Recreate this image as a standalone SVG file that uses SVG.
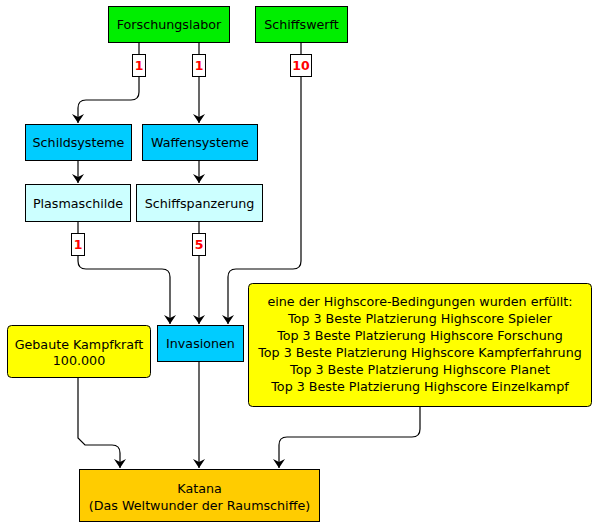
<svg xmlns="http://www.w3.org/2000/svg" width="596" height="528" viewBox="0 0 596 528">
<defs>
<marker id="arr" markerUnits="userSpaceOnUse" markerWidth="14" markerHeight="14" viewBox="-10 -7 12 14" refX="0" refY="0" orient="auto">
<path d="M-9,-6 L0,0 L-9,6 L-6,0 z" fill="#000"/>
</marker>
<style>
text{font-family:"DejaVu Sans",Verdana,sans-serif;font-size:12.7px;fill:#000;text-anchor:middle}
.n{stroke:#000;stroke-width:1}
.g{fill:#00ee00}.b{fill:#00ccff}.c{fill:#ccffff}.y{fill:#ffff00}.o{fill:#ffcc00}
.e{fill:none;stroke:#000;stroke-width:1.2}
.a{marker-end:url(#arr)}
.lb{fill:#fff;stroke:#000;stroke-width:1}
.lt{fill:#ff0000;font-weight:bold;font-size:12.5px}
</style>
</defs>
<rect width="596" height="528" fill="#fff"/>
<g id="connectors">
<path class="e a" d="M139,42 V92 Q139,100 131,100 H86 Q78,100 78,108 V123"/>
<path class="e a" d="M199,42 V123"/>
<path class="e a" d="M78,160 V183"/>
<path class="e a" d="M199,160 V183"/>
<path class="e a" d="M78,221 V261 Q78,269 86,269 H162 Q170,269 170,277 V324"/>
<path class="e a" d="M199,221 V324"/>
<path class="e a" d="M301,42 V261 Q301,269 293,269 H236 Q228,269 228,277 V324"/>
<path class="e a" d="M199,361 V468"/>
<path class="e a" d="M78,377 V438 L85,445 H112 Q120,445 120,453 V468"/>
<path class="e a" d="M420,406 V429 Q420,437 412,437 H287 Q279,437 279,445 V468"/>
<rect class="lb" x="132.5" y="54.5" width="13" height="22"/><text class="lt" x="139" y="70">1</text>
<rect class="lb" x="192.5" y="54.5" width="13" height="22"/><text class="lt" x="199" y="70">1</text>
<rect class="lb" x="290.5" y="54.5" width="21" height="22"/><text class="lt" x="301" y="70">10</text>
<rect class="lb" x="71.5" y="233.5" width="13" height="22"/><text class="lt" x="78" y="249">1</text>
<rect class="lb" x="192.5" y="233.5" width="13" height="22"/><text class="lt" x="199" y="249">5</text>
</g>
<g id="forschungslabor"><rect class="n g" x="108.5" y="6.5" width="121" height="36"/><text x="169" y="29">Forschungslabor</text></g>
<g id="schiffswerft"><rect class="n g" x="255.5" y="6.5" width="92" height="36"/><text x="301.5" y="29">Schiffswerft</text></g>
<g id="schildsysteme"><rect class="n b" x="25.5" y="124.5" width="106" height="36"/><text x="78.5" y="147">Schildsysteme</text></g>
<g id="waffensysteme"><rect class="n b" x="142.5" y="124.5" width="115" height="36"/><text x="200" y="147">Waffensysteme</text></g>
<g id="plasmaschilde"><rect class="n c" x="25.5" y="184.5" width="105" height="37"/><text x="78" y="207.5">Plasmaschilde</text></g>
<g id="schiffspanzerung"><rect class="n c" x="136.5" y="184.5" width="126" height="37"/><text x="199.5" y="207.5">Schiffspanzerung</text></g>
<g id="invasionen"><rect class="n b" x="157.5" y="325.5" width="86" height="36"/><text x="200.5" y="348">Invasionen</text></g>
<g id="kampfkraft"><rect class="n y" x="7.5" y="325.5" width="143" height="52" rx="4"/><text x="79" y="348.5">Gebaute Kampfkraft</text><text x="79" y="365">100.000</text></g>
<g id="highscore"><rect class="n y" x="248.5" y="283.5" width="343" height="123" rx="4"/>
<text x="420" y="306">eine der Highscore-Bedingungen wurden erfüllt:</text>
<text x="420" y="323">Top 3 Beste Platzierung Highscore Spieler</text>
<text x="420" y="340">Top 3 Beste Platzierung Highscore Forschung</text>
<text x="420" y="357">Top 3 Beste Platzierung Highscore Kampferfahrung</text>
<text x="420" y="374">Top 3 Beste Platzierung Highscore Planet</text>
<text x="420" y="391">Top 3 Beste Platzierung Highscore Einzelkampf</text>
</g>
<g id="katana"><rect class="n o" x="79.5" y="469.5" width="240" height="52"/><text x="199.5" y="492.5">Katana</text><text x="199.5" y="510">(Das Weltwunder der Raumschiffe)</text></g>
</svg>
